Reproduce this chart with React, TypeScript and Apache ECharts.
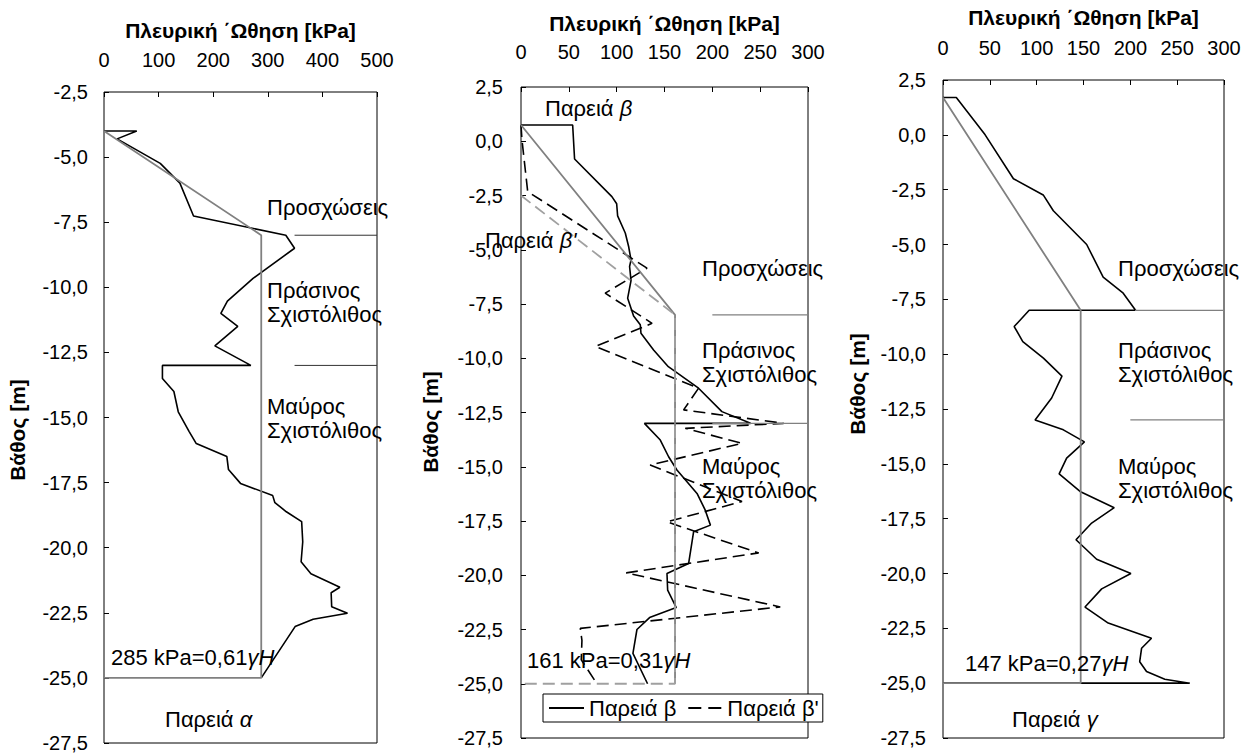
import React, { useEffect, useRef } from "react";
import * as echarts from "echarts";

// ---------- data ----------
// Panel α
const p1Measured: number[][] = [
  [0, -4], [60, -4], [24, -4.3], [103, -5.24], [139, -6], [164, -7.26], [333, -8], [349, -8.5],
  [273, -9.66], [226, -10.53], [214, -11], [245, -11.5], [203, -12.25], [269, -13], [107, -13],
  [107, -13.5], [128, -14], [136, -14.78], [156, -15.54], [169, -16], [225, -16.5], [228, -17],
  [250, -17.53], [309, -18], [313, -18.27], [334, -18.62], [362, -19], [364, -19.77], [361, -20.54],
  [379, -21], [432, -21.52], [416, -21.73], [417, -22.27], [446, -22.52], [383, -22.75], [350, -23.03],
  [288, -25],
];
const p1Envelope: number[][] = [[0, -4], [288, -8], [288, -25], [0, -25]];
const p1Layer8: number[][] = [[349, -8], [500, -8]];
const p1Layer13: number[][] = [[349, -13], [500, -13]];

// Panel β / β'
const p2Beta: number[][] = [
  [0, 0.75], [54, 0.75], [56, -0.82], [95, -2.55], [100, -2.88], [101, -3.44], [109, -4.23],
  [112.5, -4.85], [115, -5.47], [113.5, -5.77], [115, -6.42], [111.5, -7.23], [117.7, -8.05],
  [124.7, -8.46], [125.4, -8.85], [138.6, -9.62], [154, -10.39], [185.6, -11.38], [210, -12.46],
  [240, -13], [129, -13], [145.6, -13.77], [154.3, -14.54], [163, -15.15], [184, -16.23],
  [192.6, -17], [198, -17.69], [180.4, -18], [175.2, -19.46], [152.6, -19.92], [153.3, -20.69],
  [162.3, -21.49], [134.4, -21.95], [121.2, -22.5], [117, -23.6], [132.3, -25],
];
const p2BetaPrime: number[][] = [
  [0, 0.75], [1, 0.07], [7, -2.32], [131.7, -5.85], [88, -7], [137, -8.39], [77.7, -9.46],
  [185.6, -11.38], [170, -12.38], [274.5, -13], [171.7, -13.23], [231, -13.92], [135, -14.92],
  [231, -16.6], [152.6, -17.54], [248.4, -18.97], [110, -19.89], [271, -21.46], [62, -22.45],
  [63.7, -23], [63, -23.9], [79.4, -25],
];
const p2Envelope: number[][] = [[0, 0.75], [161, -8], [161, -25]];
const p2EnvelopePrime: number[][] = [[0, -2.5], [161, -8], [161, -25], [0, -25]];
const p2Layer8: number[][] = [[200, -8], [300, -8]];
const p2Layer13: number[][] = [[200, -13], [300, -13]];

// Panel γ
const p3Measured: number[][] = [
  [0, 1.7], [14.2, 1.7], [45, 0], [75.2, -2], [107, -2.74], [117.8, -3.46], [153.4, -5], [171, -6.49],
  [192.4, -7.22], [205.6, -8], [92, -8], [76, -8.74], [85.2, -9.43], [107.2, -10.18], [127, -11],
  [116, -12], [98.3, -13], [128.5, -13.45], [151, -14], [132, -14.74], [124, -15.46], [146.3, -16.26],
  [182.8, -17], [158.7, -17.7], [142, -18.46], [164, -19.35], [200.6, -20], [169.4, -20.7],
  [151.6, -21.53], [176.4, -22.26], [222.6, -22.95], [212, -23.41], [210, -24.02], [217.3, -24.47],
  [236.8, -24.82], [263.4, -25], [0, -25],
];
const p3Envelope: number[][] = [[0, 1.7], [147, -8], [147, -25], [0, -25]];
const p3Layer8: number[][] = [[205, -8], [300, -8]];
const p3Layer13: number[][] = [[200, -13], [300, -13]];

const xTitle = "Πλευρική ΄Ωθηση [kPa]";
const yTitle = "Βάθος [m]";
const legendNames = ["Παρειά β", "Παρειά β'"];

// ---------- styles ----------
const FONT = '"Liberation Sans", Arial, Helvetica, sans-serif';
const TICK_FS = 20;
const TITLE_FS = 21;
const NOTE_FS = 22;
const BLACK = "#000000";
const GRAY = "#808080";

const yFmt = (v: number) => v.toFixed(1).replace(".", ",");

function xAxis(gi: number, max: number, interval: number, labelMargin: number, nameGap: number) {
  return {
    gridIndex: gi,
    type: "value",
    position: "top",
    min: 0,
    max,
    interval,
    name: xTitle,
    nameLocation: "middle",
    nameGap,
    nameTextStyle: { fontFamily: FONT, fontSize: TITLE_FS, fontWeight: "bold", color: BLACK },
    axisLine: { show: false, onZero: false },
    axisTick: { show: true, inside: true, length: 5, lineStyle: { color: BLACK } },
    axisLabel: { fontFamily: FONT, fontSize: TICK_FS, color: BLACK, margin: labelMargin },
    splitLine: { show: false },
  };
}

function yAxis(gi: number, min: number, max: number, labelMargin: number) {
  return {
    gridIndex: gi,
    type: "value",
    min,
    max,
    interval: 2.5,
    axisLine: { show: false, onZero: false },
    axisTick: { show: true, inside: true, length: 5, lineStyle: { color: BLACK } },
    axisLabel: { fontFamily: FONT, fontSize: TICK_FS, color: BLACK, margin: labelMargin, formatter: yFmt },
    splitLine: { show: false },
  };
}

function line(name: string, idx: number, data: number[][], color: string, width: number, dashed = false, z = 2) {
  return {
    name,
    type: "line",
    xAxisIndex: idx,
    yAxisIndex: idx,
    data,
    symbol: "none",
    showSymbol: false,
    z,
    lineStyle: { color, width, type: dashed ? [12, 6] : "solid" },
    itemStyle: { color },
    silent: true,
  };
}

function txt(x: number, y: number, text: string, extra: any = {}) {
  return {
    type: "text",
    x,
    y,
    silent: true,
    z: 100,
    style: {
      text,
      fill: BLACK,
      fontFamily: FONT,
      fontSize: NOTE_FS,
      align: "left",
      verticalAlign: "middle",
      lineHeight: 24,
      rich: { i: { fontStyle: "italic", fontFamily: FONT, fontSize: NOTE_FS, fill: BLACK } },
      ...extra,
    },
  };
}

function yName(x: number, y: number) {
  return {
    type: "text",
    x,
    y,
    rotation: Math.PI / 2,
    silent: true,
    style: {
      text: yTitle,
      fill: BLACK,
      fontFamily: FONT,
      fontSize: TITLE_FS,
      fontWeight: "bold",
      align: "center",
      verticalAlign: "middle",
    },
  };
}

export default function App() {
  const ref = useRef<HTMLDivElement>(null);
  useEffect(() => {
    if (!ref.current) return;
    const chart = echarts.init(ref.current, undefined, { renderer: "svg" });
    const gridBase = { show: true, borderColor: BLACK, borderWidth: 1, backgroundColor: "transparent" };
    const option: any = {
      animation: false,
      grid: [
        { ...gridBase, left: 104, top: 92, width: 273, height: 651 },
        { ...gridBase, left: 521, top: 87, width: 287, height: 651 },
        { ...gridBase, left: 943, top: 80, width: 281, height: 658 },
      ],
      xAxis: [xAxis(0, 500, 100, 22, 51), xAxis(1, 300, 50, 25, 53), xAxis(2, 300, 50, 22, 52)],
      yAxis: [yAxis(0, -27.5, -2.5, 16), yAxis(1, -27.5, 2.5, 18), yAxis(2, -27.5, 2.5, 17)],
      legend: {
        data: [
          { name: legendNames[0], icon: "path://M0,0H36V2H0Z" },
          { name: legendNames[1], icon: "path://M0,0H13V2H0ZM20,0H33V2H20Z" },
        ],
        left: 543,
        top: 694,
        orient: "horizontal",
        backgroundColor: "#ffffff",
        borderColor: BLACK,
        borderWidth: 1,
        borderRadius: 0,
        padding: [3, 4, 3, 6],
        itemGap: 12,
        itemWidth: 35,
        itemHeight: 2,
        selectedMode: false,
        textStyle: { fontFamily: FONT, fontSize: NOTE_FS, color: BLACK },
      },
      series: [
        line("Παρειά α", 0, p1Measured, BLACK, 1.6),
        line("env α", 0, p1Envelope, GRAY, 1.8, false, 3),
        line("layer α 8", 0, p1Layer8, "#333333", 1),
        line("layer α 13", 0, p1Layer13, "#333333", 1),

        line(legendNames[0], 1, p2Beta, BLACK, 1.6),
        line(legendNames[1], 1, p2BetaPrime, BLACK, 1.6, true),
        line("env β", 1, p2Envelope, GRAY, 1.8, false, 3),
        line("env β'", 1, p2EnvelopePrime, "#a0a0a0", 1.8, true, 3),
        line("layer β 8", 1, p2Layer8, GRAY, 1.2),
        line("layer β 13", 1, p2Layer13, GRAY, 1.2),

        line("Παρειά γ", 2, p3Measured, BLACK, 1.6),
        line("env γ", 2, p3Envelope, GRAY, 1.8, false, 3),
        line("layer γ 8", 2, p3Layer8, GRAY, 1.2),
        line("layer γ 13", 2, p3Layer13, GRAY, 1.2),
      ],
      graphic: [
        yName(17, 430),
        yName(430, 422),
        yName(857, 384),
        // panel α
        txt(267, 207, "Προσχώσεις"),
        txt(267, 302, "Πράσινος\nΣχιστόλιθος"),
        txt(267, 418, "Μαύρος\nΣχιστόλιθος"),
        txt(111, 657, "285 kPa=0,61{i|γH}"),
        txt(165, 719, "Παρειά {i|α}"),
        // panel β
        txt(545, 108, "Παρειά {i|β}"),
        txt(485, 240, "Παρειά {i|β'}"),
        txt(702, 268, "Προσχώσεις"),
        txt(702, 362, "Πράσινος\nΣχιστόλιθος"),
        txt(702, 478, "Μαύρος\nΣχιστόλιθος"),
        txt(527, 660, "161 kPa=0,31{i|γH}"),
        // panel γ
        txt(1118, 268, "Προσχώσεις"),
        txt(1118, 362, "Πράσινος\nΣχιστόλιθος"),
        txt(1118, 478, "Μαύρος\nΣχιστόλιθος"),
        txt(965, 663, "147 kPa=0,27{i|γH}"),
        txt(1012, 719, "Παρειά {i|γ}"),
      ],
    };
    chart.setOption(option);
    return () => chart.dispose();
  }, []);
  return (
    <div
      ref={ref}
      style={{ position: "fixed", left: 0, top: 0, width: 1248, height: 755, background: "#ffffff" }}
    />
  );
}
